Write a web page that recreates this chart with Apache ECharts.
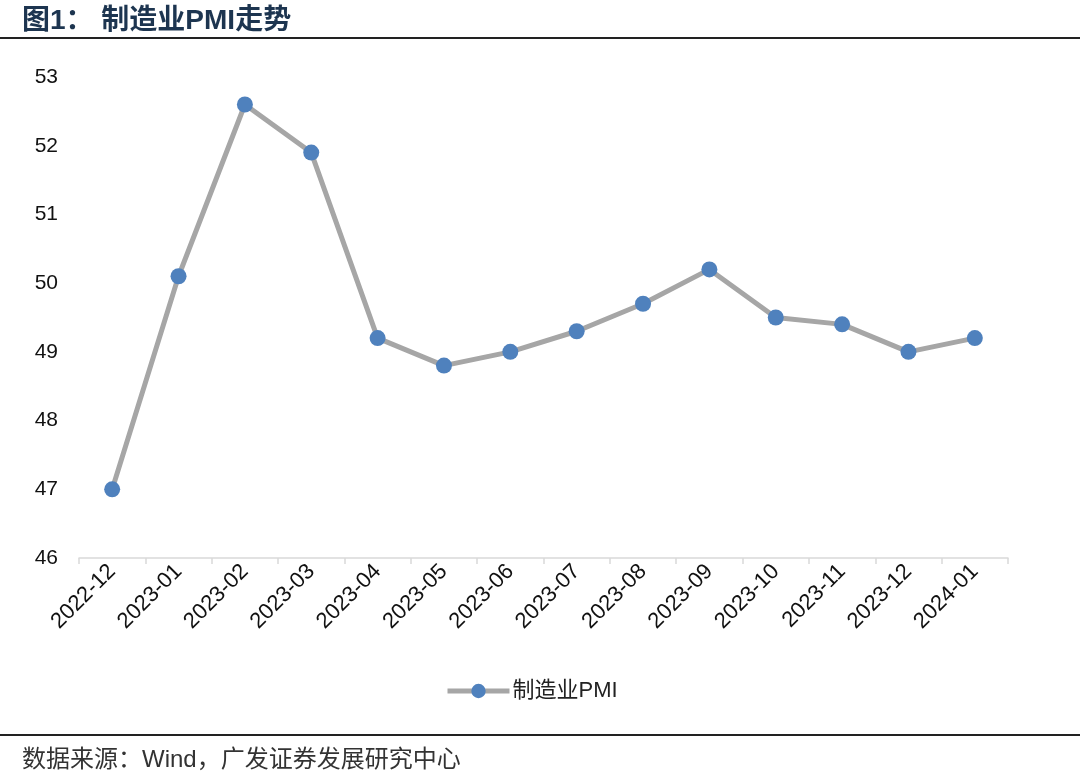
<!DOCTYPE html>
<html>
<head>
<meta charset="utf-8">
<script src="https://cdn.jsdelivr.net/npm/echarts@6/dist/echarts.min.js"></script>
<style>html,body{margin:0;padding:0;background:#fff;}#c{width:1080px;height:775px;}</style>
</head>
<body>
<div id="c"></div>
<script>
const categories = ['2022-12','2023-01','2023-02','2023-03','2023-04','2023-05','2023-06','2023-07','2023-08','2023-09','2023-10','2023-11','2023-12','2024-01'];
const pmiValues = [47.0, 50.1, 52.6, 51.9, 49.2, 48.8, 49.0, 49.3, 49.7, 50.2, 49.5, 49.4, 49.0, 49.2];
const seriesName = '制造业PMI';
const yMin = 46, yMax = 53, yInterval = 1;

const chart = echarts.init(document.getElementById('c'));
const font = '"Liberation Sans", Arial, "Noto Sans CJK SC", sans-serif';
chart.setOption({
  backgroundColor: '#fff',
  animation: false,
  title: [
    { text: '图1： 制造业PMI走势', left: 17, top: 2,
      textStyle: { fontSize: 28, fontWeight: 'bold', color: '#1d3550', fontFamily: font } },
    { text: '数据来源：Wind，广发证券发展研究中心', left: 17, top: 743,
      textStyle: { fontSize: 24, fontWeight: 'normal', color: '#333', fontFamily: font } }
  ],
  graphic: [
    { type: 'line', shape: { x1: 0, y1: 38, x2: 1080, y2: 38 }, style: { stroke: '#222', lineWidth: 2 } },
    { type: 'line', shape: { x1: 0, y1: 735, x2: 1080, y2: 735 }, style: { stroke: '#222', lineWidth: 2 } }
  ],
  legend: {
    data: [seriesName], left: 440, top: 675, itemWidth: 62, itemHeight: 18, itemGap: 5,
    lineStyle: { width: 5, color: '#a6a6a6' },
    textStyle: { fontSize: 22, color: '#222', fontFamily: font, padding: [0,0,0,-2] }
  },
  grid: { left: 79, right: 72, top: 77, bottom: 217 },
  xAxis: {
    type: 'category', data: categories, boundaryGap: true,
    axisLine: { lineStyle: { color: '#d9d9d9', width: 1.5 } },
    axisTick: { show: true, length: 6, lineStyle: { color: '#d9d9d9', width: 1.5 } },
    axisLabel: { rotate: 45, fontSize: 22, color: '#111', fontFamily: font, margin: 10 }
  },
  yAxis: {
    type: 'value', min: yMin, max: yMax, interval: yInterval,
    axisLine: { show: false }, axisTick: { show: false },
    splitLine: { show: false },
    axisLabel: { fontSize: 21, color: '#111', fontFamily: font, margin: 21 }
  },
  series: [{
    name: seriesName, type: 'line', data: pmiValues,
    symbol: 'circle', symbolSize: 16,
    lineStyle: { color: '#a6a6a6', width: 5 },
    itemStyle: { color: '#4f81bd' }
  }]
});
</script>
</body>
</html>
